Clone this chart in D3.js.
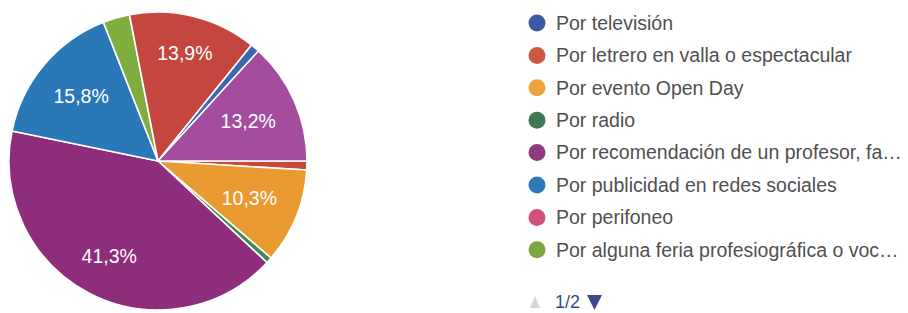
<!DOCTYPE html>
<html>
<head>
<meta charset="utf-8">
<script src="https://cdn.jsdelivr.net/npm/d3@7"></script>
<style>
  html, body { margin: 0; padding: 0; background: #fff; }
  svg { display: block; font-family: "Liberation Sans", Arial, sans-serif; }
</style>
</head>
<body>
<svg id="chart" width="908" height="313"></svg>
<script>
// ---- data (slice order as drawn, clockwise) ----
const categories = [
  "Por televisión",
  "Por letrero en valla o espectacular",
  "Por evento Open Day",
  "Por radio",
  "Por recomendación de un profesor, fa…",
  "Por publicidad en redes sociales",
  "Por perifoneo",
  "Por alguna feria profesiográfica o voc…",
  "Opción 9 (página 2)",
  "Opción 10 (página 2)",
  "Opción 11 (página 2)"
];
const counts = [0, 3, 32, 2, 128, 49, 0, 9, 43, 3, 41];
const sliceColors = ["#3a5ba8", "#c8483e", "#e99a30", "#3d8a4c", "#8e2d7c", "#2a78b8", "#d0527a", "#7fad3e", "#c4463f", "#3b68b2", "#a44d9e"];
const legendColors = ["#3a5aa6", "#cc5a3e", "#eda23c", "#3e7a52", "#8e3a80", "#2e78b8", "#d0527a", "#7ca642"];
const legendCount = 8;
const pageLabel = "1/2";

const svg = d3.select("#chart");
const cx = 158, cy = 161, R = 149;
const total = d3.sum(counts);
const startDeg = 90;

const pie = d3.pie().sort(null).value(d => d)
  .startAngle(startDeg * Math.PI / 180)
  .endAngle(startDeg * Math.PI / 180 + 2 * Math.PI);
const arcs = pie(counts);
const arc = d3.arc().innerRadius(0).outerRadius(R);

const g = svg.append("g").attr("transform", `translate(${cx},${cy})`);
g.selectAll("path").data(arcs.filter(a => a.value > 0)).join("path")
  .attr("d", arc)
  .attr("fill", d => sliceColors[d.index])
  .attr("stroke", "#fff")
  .attr("stroke-width", 1.6)
  .attr("stroke-linejoin", "round");

const fmt = v => (v * 100).toFixed(1).replace(".", ",") + "%";
const labelR = 128;
arcs.forEach(a => {
  if (a.value / total < 0.05) return;
  const t = g.append("text")
    .attr("fill", "#fff")
    .attr("font-size", "19.5px")
    .attr("text-anchor", "middle")
    .attr("dominant-baseline", "central")
    .text(fmt(a.value / total));
  const w = t.node().getComputedTextLength();
  const h = 20;
  const th = (a.startAngle + a.endAngle) / 2;
  const d = labelR - (Math.abs(Math.sin(th)) * w / 2 + Math.abs(Math.cos(th)) * h / 2);
  t.attr("x", Math.sin(th) * d).attr("y", -Math.cos(th) * d);
});

// ---- legend ----
const ly = d3.scaleLinear().domain([0, 1]).range([23, 55.4]);
const lg = svg.append("g");
for (let i = 0; i < legendCount; i++) {
  const y = ly(i);
  lg.append("circle").attr("cx", 537).attr("cy", y).attr("r", 8.5).attr("fill", legendColors[i]);
  lg.append("text").attr("x", 556).attr("y", y).attr("dy", "0.35em")
    .attr("font-size", "19.5px").attr("fill", "#505050").text(categories[i]);
}

// pager
const py = 302;
lg.append("path").attr("d", `M530,${py + 6} L535,${py - 6} L540,${py + 6} Z`).attr("fill", "#d4d4d8");
lg.append("text").attr("x", 555).attr("y", py).attr("dy", "0.33em")
  .attr("font-size", "18px").attr("fill", "#3a4a8c").text(pageLabel);
lg.append("path").attr("d", `M587,${py - 7} L602,${py - 7} L594.5,${py + 8} Z`).attr("fill", "#3d4a8e");
</script>
</body>
</html>
